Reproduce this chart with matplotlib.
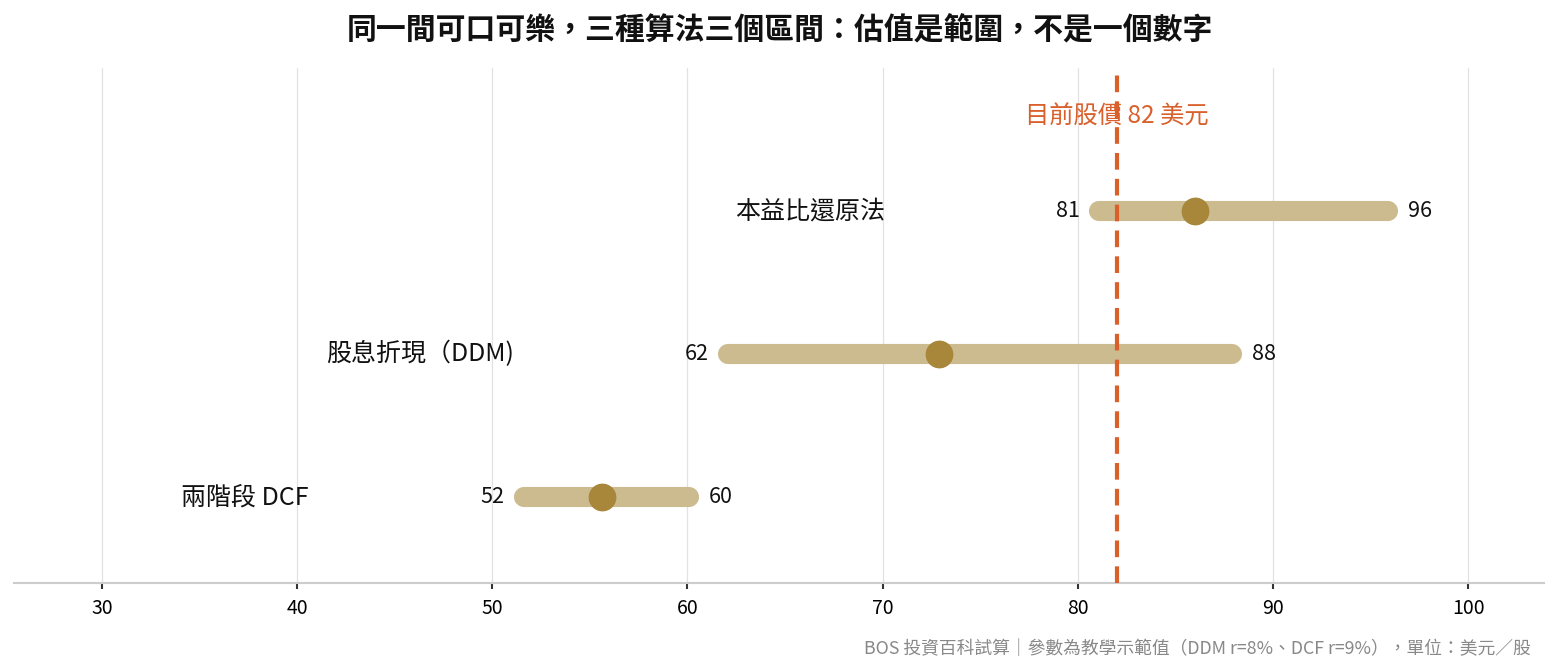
import matplotlib
matplotlib.use("Agg")
import matplotlib.pyplot as plt

plt.rcParams['font.family'] = ['Noto Sans CJK TC', 'DejaVu Sans']

# data
methods = ["兩階段 DCF", "股息折現（DDM)", "本益比還原法"]
low = [51.6, 62.1, 81.1]
high = [60.1, 87.9, 95.9]
mid = [55.6, 72.9, 86.0]
price = 82
price_label = "目前股價 82 美元"
title = "同一間可口可樂，三種算法三個區間：估值是範圍，不是一個數字"
footer = "BOS 投資百科試算｜參數為教學示範值（DDM r=8%、DCF r=9%），單位：美元／股"

bar_color = "#CDBB90"
dot_color = "#A8863A"
line_color = "#D95F2B"

fig = plt.figure(figsize=(15.6, 6.72), dpi=100)
ax = fig.add_axes([0.009, 0.1324, 0.981, 0.7666])

for i, m in enumerate(methods):
    ax.plot([low[i], high[i]], [i, i], color=bar_color, lw=14.5,
            solid_capstyle='round', zorder=2)
    ax.plot(mid[i], i, 'o', color=dot_color, ms=19, zorder=3)
    ax.annotate(f"{low[i]:.0f}", (low[i], i), xytext=(-14, 0),
                textcoords='offset points', ha='right', va='center',
                fontsize=15.5, color='#111111')
    ax.annotate(f"{high[i]:.0f}", (high[i], i), xytext=(14, 0),
                textcoords='offset points', ha='left', va='center',
                fontsize=15.5, color='#111111')
    ax.text(low[i] - 11, i, m, ha='right', va='center', fontsize=18,
            color='#111111')

ax.axvline(price, color=line_color, lw=3, ls=(0, (4, 2.2)), zorder=4)
ax.text(price, 2.66, price_label, ha='center', va='center',
        fontsize=17.5, color=line_color)

ax.set_xlim(25.5, 103.9)
ax.set_ylim(-0.6, 3.0)
ax.set_xticks(range(30, 101, 10))
ax.set_yticks([])
ax.tick_params(axis='x', labelsize=14, length=4, width=1.5, color='#333333',
               pad=7)
ax.grid(axis='x', color='#e2e2e2', lw=0.9)
ax.set_axisbelow(True)
for s in ['top', 'right', 'left']:
    ax.spines[s].set_visible(False)
ax.spines['bottom'].set_color('#cccccc')
ax.spines['bottom'].set_linewidth(1.5)

fig.text(0.5, 1 - 30 / 672, title, ha='center', va='center', fontsize=21.5,
         fontweight='bold', color='#111111')
fig.text(0.981, 0.034, footer, ha='right', va='center', fontsize=12.8,
         color='#888888')

fig.savefig("out.png", dpi=100)
